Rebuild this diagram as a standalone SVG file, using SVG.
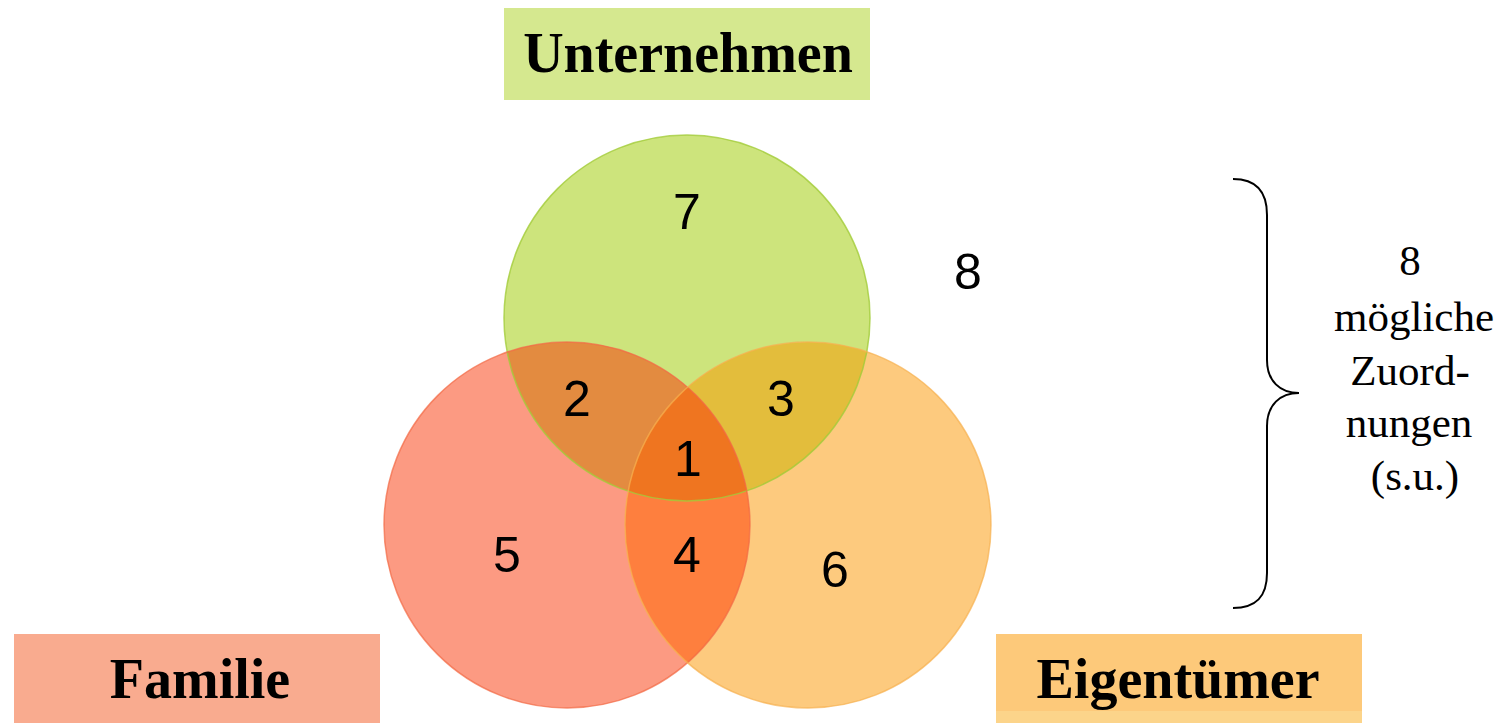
<svg xmlns="http://www.w3.org/2000/svg" width="1508" height="723" viewBox="0 0 1508 723">
<style>
.lbl{font-family:"Liberation Serif","Times New Roman",serif;font-weight:bold;font-size:56px;fill:#000;text-anchor:middle}
.num{font-family:"Liberation Sans",Arial,sans-serif;font-size:50px;fill:#000;text-anchor:middle}
.side{font-family:"Liberation Serif","Times New Roman",serif;font-size:43px;fill:#000;text-anchor:middle}
</style>
<defs>
<clipPath id="cG"><circle cx="687" cy="318" r="183"/></clipPath>
<clipPath id="cR"><circle cx="567" cy="525" r="183"/></clipPath>
<clipPath id="cO"><circle cx="808" cy="525" r="183"/></clipPath>
</defs>
<rect width="1508" height="723" fill="#ffffff"/>
<g id="venn">
<circle cx="687" cy="318" r="183" fill="#cde47c"/>
<circle cx="567" cy="525" r="183" fill="#fc9a82"/>
<circle cx="808" cy="525" r="183" fill="#fdca7e"/>
<circle cx="567" cy="525" r="183" fill="#e38b40" clip-path="url(#cG)"/>
<circle cx="808" cy="525" r="183" fill="#e3bd3c" clip-path="url(#cG)"/>
<circle cx="808" cy="525" r="183" fill="#fe7f3e" clip-path="url(#cR)"/>
<g clip-path="url(#cG)"><circle cx="808" cy="525" r="183" fill="#ef7520" clip-path="url(#cR)"/></g>
<circle cx="687" cy="318" r="183" fill="none" stroke="#a3cc3a" stroke-width="1.5" opacity="0.8"/>
<circle cx="567" cy="525" r="183" fill="none" stroke="#f26a45" stroke-width="1.5" opacity="0.7"/>
<circle cx="808" cy="525" r="183" fill="none" stroke="#f6b050" stroke-width="1.5" opacity="0.7"/>
</g>
<g id="numbers">
<text class="num" x="687" y="229">7</text>
<text class="num" x="968" y="289">8</text>
<text class="num" x="577" y="416">2</text>
<text class="num" x="781" y="416">3</text>
<text class="num" x="688" y="476">1</text>
<text class="num" x="507" y="572">5</text>
<text class="num" x="687" y="572">4</text>
<text class="num" x="835" y="587">6</text>
</g>
<g id="node-unternehmen">
<rect x="504" y="8" width="366" height="92" fill="#d5e88f"/>
<text class="lbl" x="688" y="72">Unternehmen</text>
</g>
<g id="node-familie">
<rect x="14" y="634" width="366" height="89" fill="#f9ab8f"/>
<text class="lbl" x="200" y="698">Familie</text>
</g>
<g id="node-eigentuemer">
<rect x="996" y="634" width="366" height="89" fill="#fdc97a"/>
<rect x="996" y="711" width="366" height="12" fill="#fcd48a"/>
<text class="lbl" x="1178" y="698">Eigentümer</text>
</g>
<g id="connectors">
<path d="M1233,179 C1256,179 1267,191 1267,215 L1267,360 C1267,381 1280,393 1299,393 C1280,393 1267,405 1267,426 L1267,573 C1267,597 1256,608 1233,608" fill="none" stroke="#000" stroke-width="2"/>
</g>
<g id="node-side">
<text class="side" x="1410" y="275">8</text>
<text class="side" x="1414" y="331">mögliche</text>
<text class="side" x="1410" y="385">Zuord-</text>
<text class="side" x="1409" y="437">nungen</text>
<text class="side" x="1415" y="490">(s.u.)</text>
</g>
</svg>
